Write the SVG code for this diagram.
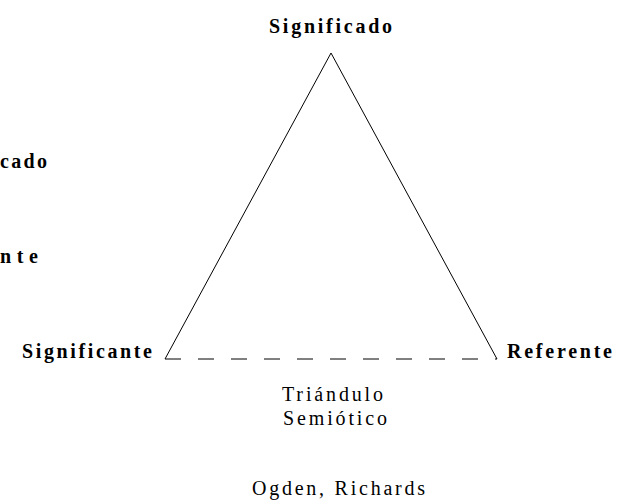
<svg xmlns="http://www.w3.org/2000/svg" width="618" height="502" viewBox="0 0 618 502">
<style>
.b{font-family:"Liberation Serif","Times New Roman",serif;font-weight:bold;font-size:20px;fill:#000}
.r{font-family:"Liberation Serif","Times New Roman",serif;font-size:20px;fill:#000}
.ln{stroke:#000;stroke-width:1;fill:none}
</style>
<rect width="618" height="502" fill="#fff"/>
<g id="connectors">
<polyline class="ln" points="165,359 331,53 497,359"/>
<line class="ln" x1="165" y1="359" x2="497" y2="359" stroke-dasharray="16 17"/>
</g>
<g id="significado"><text class="b" x="269" y="33" textLength="123" lengthAdjust="spacing">Significado</text></g>
<g id="significante"><text class="b" x="22" y="358" textLength="130" lengthAdjust="spacing">Significante</text></g>
<g id="referente"><text class="b" x="507" y="358" textLength="105" lengthAdjust="spacing">Referente</text></g>
<g id="left-cado"><text class="b" x="0" y="168" textLength="47" lengthAdjust="spacing">cado</text></g>
<g id="left-nte"><text class="b" x="0" y="263" textLength="38" lengthAdjust="spacing">nte</text></g>
<g id="title">
<text class="r" x="282" y="401" textLength="101" lengthAdjust="spacing">Triándulo</text>
<text class="r" x="283" y="425" textLength="104" lengthAdjust="spacing">Semiótico</text>
</g>
<g id="author"><text class="r" x="252" y="495" textLength="173" lengthAdjust="spacing">Ogden, Richards</text></g>
</svg>
